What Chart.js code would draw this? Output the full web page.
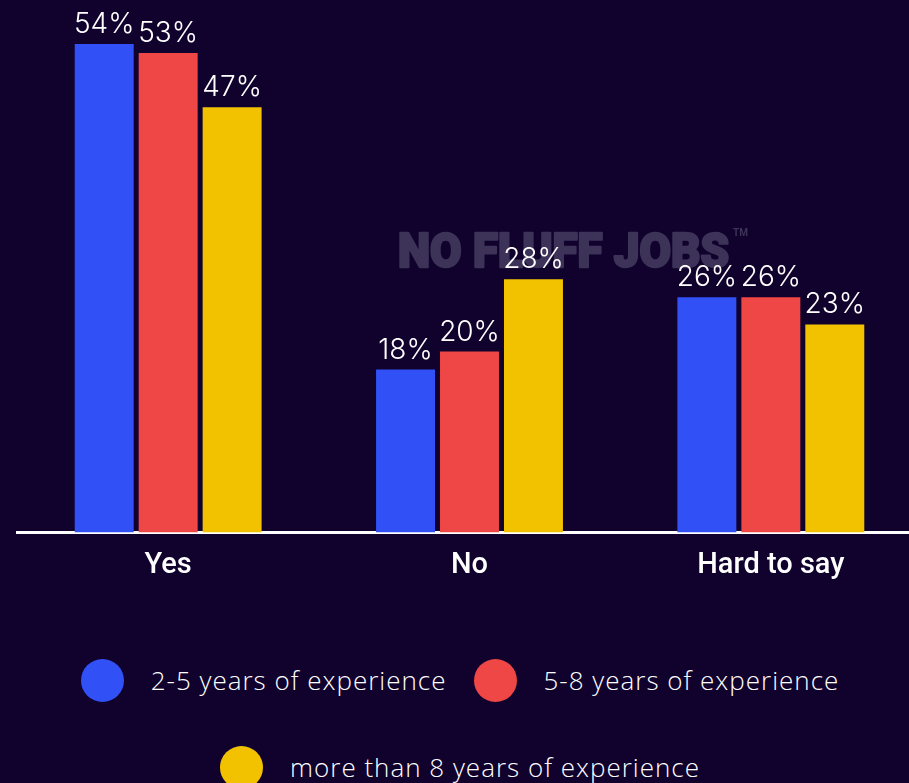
<!DOCTYPE html>
<html lang="en">
  <head>
    <meta charset="UTF-8" />
    <meta name="viewport" content="width=device-width, initial-scale=1.0" />
    <title>Experience survey</title>
    <style>
      html,
      body {
        margin: 0;
        padding: 0;
        width: 909px;
        height: 783px;
        overflow: hidden;
        background-color: #10022d;
      }
      #chart {
        position: absolute;
        left: 0;
        top: 0;
      }
      #legend {
        position: absolute;
        left: 0;
        top: 654px;
        width: 920px;
        display: flex;
        flex-wrap: wrap;
        justify-content: center;
        row-gap: 35px;
      }
      .item {
        display: flex;
        align-items: center;
        height: 52px;
        margin: 0 13.5px;
      }
      .dot {
        width: 43px;
        height: 43px;
        border-radius: 50%;
        margin-right: 27px;
      }
      .item span {
        font-family: "Open Sans", sans-serif;
        font-weight: 300;
        font-size: 26px;
        letter-spacing: 1px;
        color: #fff;
        white-space: nowrap;
      }
    </style>
    <script src="https://cdn.jsdelivr.net/npm/chart.js"></script>
  </head>
  <body>
    <canvas id="chart" width="925" height="622"></canvas>
    <div id="legend"></div>
    <script>
      const categories = ["Yes", "No", "Hard to say"];
      const seriesNames = [
        "2-5 years of experience",
        "5-8 years of experience",
        "more than 8 years of experience",
      ];
      const years2to5 = [54, 18, 26];
      const years5to8 = [53, 20, 26];
      const years8plus = [47, 28, 23];
      const seriesColors = ["#3151f7", "#ef4646", "#f2c200"];

      const seriesValues = [years2to5, years5to8, years8plus];

      // percentage above every bar
      const valueLabels = {
        id: "valueLabels",
        afterDatasetsDraw(chart) {
          const ctx = chart.ctx;
          ctx.save();
          ctx.font = "300 28px Inter";
          ctx.fillStyle = "#ffffff";
          ctx.textAlign = "center";
          ctx.textBaseline = "alphabetic";
          chart.data.datasets.forEach((ds, i) => {
            chart.getDatasetMeta(i).data.forEach((bar, j) => {
              ctx.fillText(ds.data[j] + "%", bar.x, bar.y - 11);
            });
          });
          ctx.restore();
        },
      };

      // faint logo behind the bars
      const watermark = {
        id: "watermark",
        beforeDatasetsDraw(chart) {
          const ctx = chart.ctx;
          const text = "NO FLUFF JOBS";
          ctx.save();
          ctx.font = "900 48px Roboto";
          ctx.fillStyle = "#3d3358";
          ctx.strokeStyle = "#3d3358";
          ctx.lineWidth = 2.5;
          ctx.lineJoin = "round";
          ctx.textBaseline = "alphabetic";
          const w = ctx.measureText(text).width;
          ctx.translate(398, 267);
          ctx.scale(331 / w, 1);
          ctx.fillText(text, 0, 0);
          ctx.strokeText(text, 0, 0);
          ctx.restore();
          ctx.save();
          ctx.font = "700 10px Roboto";
          ctx.fillStyle = "#3d3358";
          ctx.fillText("TM", 733, 236);
          ctx.restore();
        },
      };

      const chart = new Chart(document.getElementById("chart"), {
        type: "bar",
        data: {
          labels: categories,
          datasets: seriesNames.map((name, i) => ({
            label: name,
            data: seriesValues[i],
            backgroundColor: seriesColors[i],
            borderWidth: 0,
            categoryPercentage: 0.6368,
            barPercentage: 0.921875,
          })),
        },
        options: {
          responsive: false,
          animation: false,
          layout: {
            padding: { left: 17.5, right: 3.5, top: 44, bottom: 22.8 },
          },
          plugins: {
            legend: { display: false },
            tooltip: { enabled: false },
          },
          scales: {
            x: {
              z: 1,
              grid: { display: false, drawTicks: false },
              border: { display: true, color: "#ffffff", width: 3 },
              ticks: {
                color: "#ffffff",
                padding: 16,
                font: { family: "Roboto", size: 29, weight: "500" },
              },
            },
            y: {
              display: false,
              min: 0,
              max: 54,
            },
          },
        },
        plugins: [watermark, valueLabels],
      });

      // legend built from the same series
      const legend = document.getElementById("legend");
      seriesNames.forEach((name, i) => {
        const item = document.createElement("div");
        item.className = "item";
        const dot = document.createElement("div");
        dot.className = "dot";
        dot.style.backgroundColor = seriesColors[i];
        const label = document.createElement("span");
        label.textContent = name;
        item.appendChild(dot);
        item.appendChild(label);
        legend.appendChild(item);
      });
    </script>
  </body>
</html>
